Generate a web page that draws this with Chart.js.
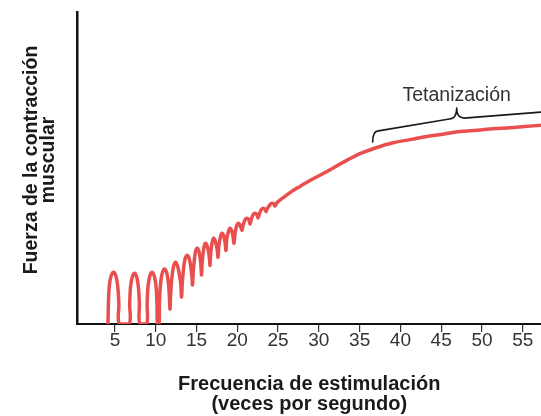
<!DOCTYPE html>
<html>
<head>
<meta charset="utf-8">
<script src="https://cdn.jsdelivr.net/npm/chart.js@4"></script>
<style>
  html, body { margin: 0; padding: 0; background: #ffffff; }
  #wrap { width: 541px; height: 416px; }
</style>
</head>
<body>
<div id="wrap"><canvas id="c" width="541" height="416"></canvas></div>
<script>
// Stimulation frequency (times per second) along the traced curve
const frequency = [
  4.14,4.19,4.30,4.51,4.82,5.12,5.33,5.47,5.52,
  6.75,6.80,6.90,7.11,7.39,7.67,7.87,7.99,8.04,
  8.89,8.94,9.05,9.26,9.54,9.82,10.03,10.15,10.20,
  10.40,10.45,10.56,10.76,11.07,11.35,11.55,11.67,11.75,
  11.82,11.97,12.16,12.42,12.68,12.90,13.07,13.16,
  13.24,13.40,13.58,13.83,14.08,14.30,14.44,14.50,
  14.59,14.75,14.88,15.06,15.25,15.45,15.55,15.61,
  15.69,15.84,15.96,16.10,16.28,16.48,16.59,16.65,
  16.74,16.90,17.08,17.26,17.46,17.57,17.63,
  17.73,17.94,18.12,18.31,18.49,18.61,
  18.71,18.92,19.10,19.29,19.47,19.59,
  19.72,19.94,20.15,20.35,20.58,
  20.70,20.94,21.19,21.43,21.56,
  21.68,21.92,22.17,22.41,22.54,
  22.66,22.91,23.15,23.40,23.52,
  23.64,24.01,24.25,24.50,24.62,
  24.87,25.85,26.83,27.69,28.91,31.00,32.96,35.05,37.01,39.10,41.18,43.26,45.35,47.31,49.40,51.36,53.44,55.28,57.24
];
// Contraction force (arbitrary units, 0-100)
const force = [
  0,6.4,12.1,15.3,16.6,15.3,12.1,6.4,0,
  0,6.4,11.8,15.0,16.3,15.0,11.8,6.4,0,
  0,6.4,12.1,15.3,16.6,15.3,12.1,6.4,0,
  0,6.4,12.1,16.0,17.6,16.3,13.1,8.6,4.8,
  9.6,14.7,18.2,19.8,18.5,15.7,12.8,8.6,
  12.8,17.6,20.8,22.0,21.1,18.2,15.0,12.5,
  16.6,21.1,23.3,24.3,23.6,21.1,18.2,15.7,
  19.8,23.3,25.2,25.9,25.2,23.0,20.8,18.8,
  22.7,25.9,27.5,26.8,24.9,23.0,21.4,
  24.9,28.1,29.1,28.4,26.2,23.6,
  27.2,29.7,30.7,30.0,28.1,25.9,
  29.1,31.6,32.3,31.6,30.0,
  31.6,33.4,33.9,33.3,32.0,
  33.3,35.0,35.5,35.0,34.0,
  35.0,36.6,37.1,36.7,36.0,
  36.8,38.3,38.7,38.4,37.8,
  38.9,40.9,42.8,44.1,46.0,48.9,51.8,54.6,56.5,58.1,59.1,60.1,60.9,61.7,62.1,62.6,62.9,63.3,63.7
];
const xTickValues = [5,10,15,20,25,30,35,40,45,50,55];
const xTitle = ['Frecuencia de estimulación', '(veces por segundo)'];
const yTitle = ['Fuerza de la contracción', 'muscular'];
const braceLabel = 'Tetanización';
// Brace over the tetanization zone (data units)
const braceX = [36.6, 37.3, 46.0, 46.9, 47.8, 57.2];
const braceY = [58.3, 61.9, 65.7, 69.2, 66.0, 67.9];
const braceLabelPos = [46.9, 71.6];

const FONT = "'Liberation Sans', Arial, Helvetica, sans-serif";

const annotationsPlugin = {
  id: 'annotations',
  afterDatasetsDraw(chart) {
    const {ctx, scales: {x, y}} = chart;
    const px = braceX.map(v => x.getPixelForValue(v));
    const py = braceY.map(v => y.getPixelForValue(v));
    ctx.save();
    ctx.strokeStyle = '#1a1a1a';
    ctx.lineWidth = 1.6;
    ctx.lineCap = 'round';
    ctx.lineJoin = 'round';
    ctx.beginPath();
    ctx.moveTo(px[0], py[0]);
    ctx.quadraticCurveTo(px[0], py[1], px[1], py[1]);
    ctx.lineTo(px[2], py[2]);
    ctx.quadraticCurveTo(px[3], py[2], px[3], py[3]);
    ctx.quadraticCurveTo(px[3], py[4], px[4], py[4]);
    ctx.lineTo(px[5], py[5]);
    ctx.stroke();
    ctx.fillStyle = '#333333';
    ctx.font = '19.5px ' + FONT;
    ctx.textAlign = 'center';
    ctx.textBaseline = 'alphabetic';
    ctx.fillText(braceLabel, x.getPixelForValue(braceLabelPos[0]), y.getPixelForValue(braceLabelPos[1]));
    ctx.restore();
  },
  afterDraw(chart) {
    // Y axis title (two rotated lines)
    const {ctx, chartArea} = chart;
    const cy = (chartArea.top + chartArea.bottom) / 2 - 8;
    ctx.save();
    ctx.fillStyle = '#1a1a1a';
    ctx.font = 'bold 19.5px ' + FONT;
    ctx.textAlign = 'center';
    ctx.textBaseline = 'middle';
    const lineXs = [chartArea.left - 45.5, chartArea.left - 28.5];
    yTitle.forEach((line, i) => {
      ctx.save();
      ctx.translate(lineXs[i], cy);
      ctx.rotate(-Math.PI / 2);
      ctx.fillText(line, 0, 0);
      ctx.restore();
    });
    ctx.restore();
  }
};

new Chart(document.getElementById('c'), {
  type: 'scatter',
  data: {
    datasets: [{
      data: frequency.map((f, i) => ({x: f, y: force[i]})),
      showLine: true,
      borderColor: '#ea4f4f',
      borderWidth: 3.5,
      pointRadius: 0,
      tension: 0.35,
      fill: false
    }]
  },
  options: {
    responsive: false,
    animation: false,
    devicePixelRatio: 1,
    layout: { padding: { top: 12, right: 0, bottom: 1, left: 77.5 } },
    plugins: { legend: { display: false }, tooltip: { enabled: false } },
    scales: {
      x: {
        type: 'linear',
        min: 0.40,
        max: 57.24,
        z: 1,
        afterBuildTicks: (scale) => { scale.ticks = xTickValues.map(v => ({value: v})); },
        grid: { display: true, drawOnChartArea: false, drawTicks: true, tickLength: 8, color: '#333333', lineWidth: 1.2 },
        border: { display: true, color: '#111111', width: 2 },
        ticks: { color: '#333333', padding: -2.2, maxRotation: 0, autoSkip: false, font: { family: FONT, size: 19 } },
        title: {
          display: true,
          text: xTitle,
          color: '#1a1a1a',
          font: { family: FONT, size: 20, weight: 'bold', lineHeight: 1.0 },
          padding: { top: 24.4, bottom: 0.2 }
        }
      },
      y: {
        type: 'linear',
        min: 0,
        max: 100,
        z: 1,
        grid: { display: false, drawTicks: false },
        border: { display: true, color: '#111111', width: 2.5 },
        ticks: { display: false },
        title: { display: false }
      }
    }
  },
  plugins: [annotationsPlugin]
});
</script>
</body>
</html>
